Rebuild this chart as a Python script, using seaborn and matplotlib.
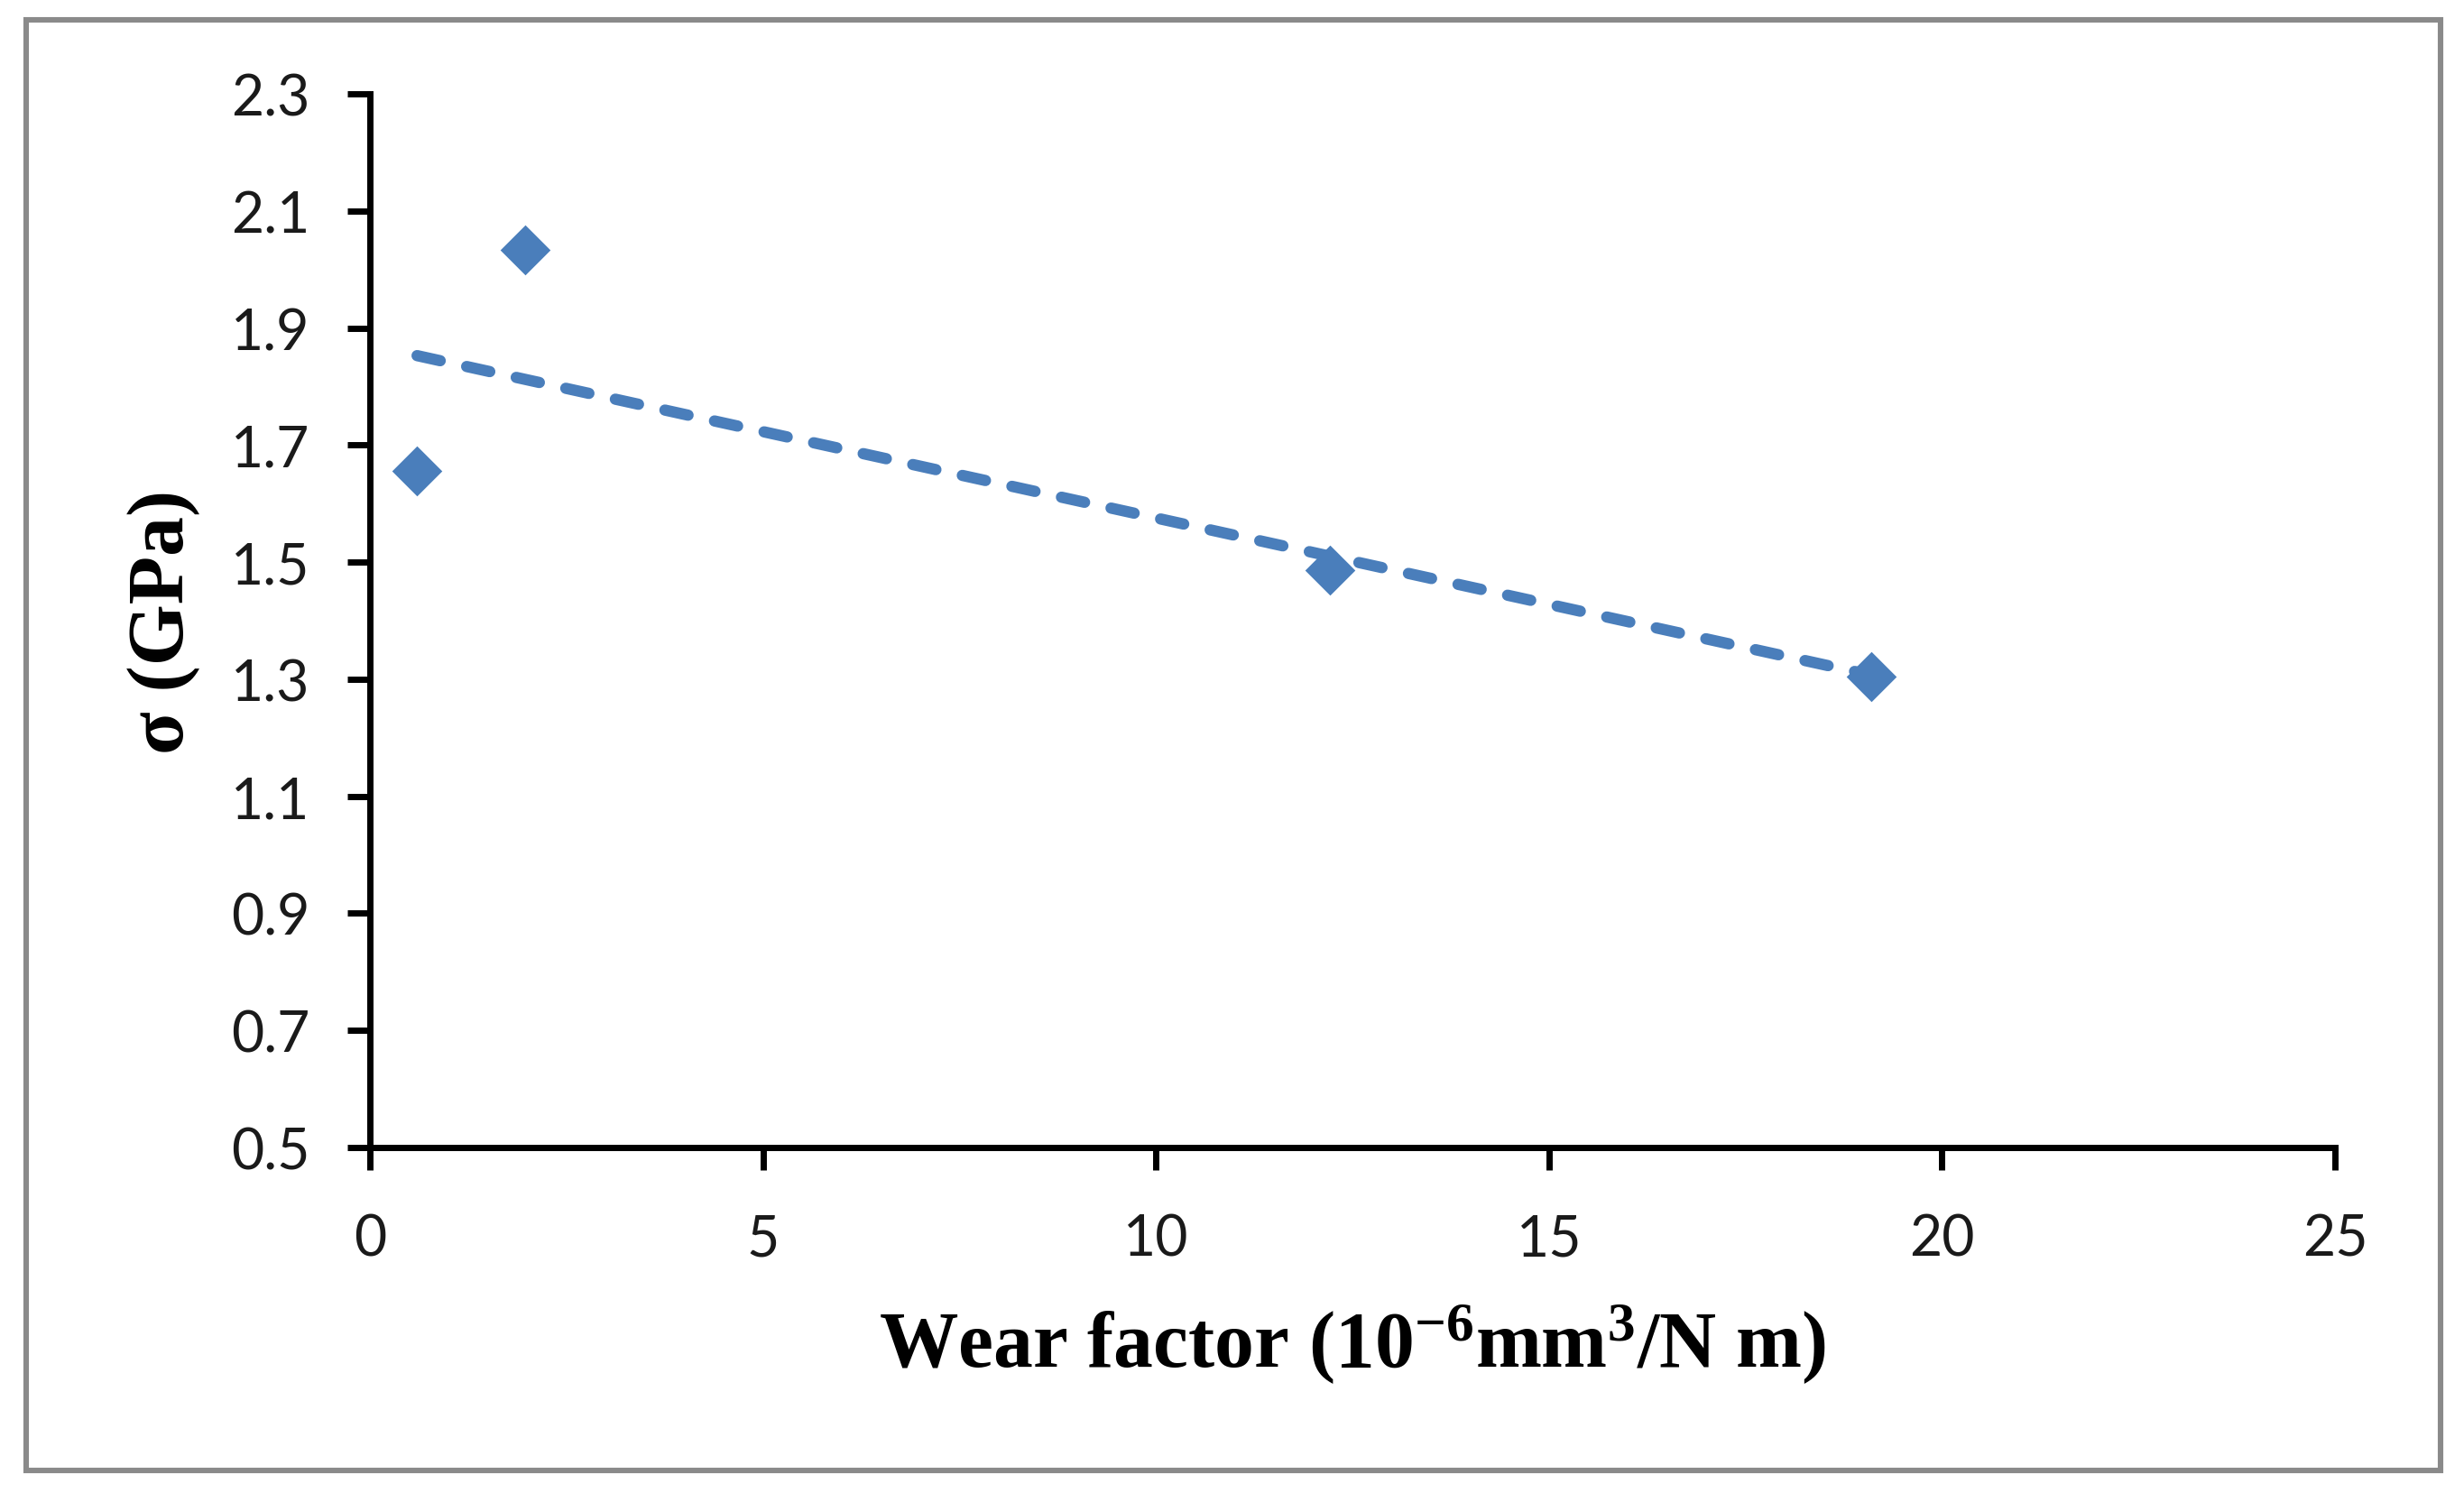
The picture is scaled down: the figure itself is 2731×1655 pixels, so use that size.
import numpy as np
import pandas as pd
import matplotlib
matplotlib.use("Agg")
import matplotlib.pyplot as plt
from matplotlib.patches import Rectangle
import seaborn as sns

# ---- data ----
wear_factor = [0.6, 1.98, 12.21, 19.1]
sigma_gpa = [1.656, 2.034, 1.487, 1.305]
x_ticks = [0, 5, 10, 15, 20, 25]
y_ticks = [0.5, 0.7, 0.9, 1.1, 1.3, 1.5, 1.7, 1.9, 2.1, 2.3]
x_label = "Wear factor (10$^{-6}$mm$^{3}$/N m)"
y_label = "σ (GPa)"

df = pd.DataFrame({"wear": wear_factor, "sigma": sigma_gpa})

sns.set_theme(style="white")
plt.rcParams["font.family"] = ["Lato", "DejaVu Sans"]
plt.rcParams["mathtext.fontset"] = "custom"
plt.rcParams["mathtext.rm"] = "Liberation Serif:bold"
plt.rcParams["mathtext.bf"] = "Liberation Serif:bold"
plt.rcParams["mathtext.it"] = "Liberation Serif:bold:italic"
plt.rcParams["mathtext.default"] = "rm"

DPI = 200
W, H = 2731, 1656
fig = plt.figure(figsize=(W / DPI, H / DPI), dpi=DPI)
fig.patch.set_facecolor("white")

ax_l, ax_r, ax_t, ax_b = 410, 2588, 105, 1273
ax = fig.add_axes([ax_l / W, 1 - ax_b / H, (ax_r - ax_l) / W, (ax_b - ax_t) / H])

blue = "#4A7EBB"

sns.scatterplot(data=df, x="wear", y="sigma", marker="D", s=200, color=blue,
                edgecolor=blue, linewidth=0, ax=ax, zorder=3, legend=False)
sns.regplot(data=df, x="wear", y="sigma", scatter=False, ci=None, truncate=True,
            ax=ax, color=blue,
            line_kws=dict(lw=4.5, dashes=(2.1, 2.4), dash_capstyle="round",
                          solid_capstyle="round", zorder=4))

ax.set_xlim(0, 25)
ax.set_ylim(0.5, 2.3)
ax.set_xticks(x_ticks)
ax.set_yticks(y_ticks)
ax.set_xticklabels([str(v) for v in x_ticks])
ax.set_yticklabels([f"{v:.1f}" for v in y_ticks])

for side in ["top", "right"]:
    ax.spines[side].set_visible(False)
for side in ["left", "bottom"]:
    ax.spines[side].set_linewidth(2.5)
    ax.spines[side].set_color("black")
    ax.spines[side].set_capstyle("projecting")

ax.tick_params(axis="both", which="major", direction="out", length=9, width=2.5,
               color="black", labelsize=22.5, labelcolor="#1a1a1a",
               bottom=True, left=True, top=False, right=False)
ax.tick_params(axis="y", pad=15)
ax.tick_params(axis="x", pad=17)
ax.grid(False)

ax.set_xlabel(x_label, fontsize=31.5, fontweight="bold", family="Liberation Serif",
              color="black")
ax.set_ylabel(y_label, fontsize=31.5, fontweight="bold", family="Liberation Serif",
              color="black")
ax.xaxis.set_label_coords(0.5, -0.185)
ax.yaxis.set_label_coords(-0.105, 0.5)
ax.xaxis.label.set_va("center")
ax.yaxis.label.set_va("center")

# outer chart-area frame
fx0, fy0, fx1, fy1 = 29, 23, 2705, 1631
fig.patches.append(Rectangle((fx0 / W, 1 - fy1 / H), (fx1 - fx0) / W, (fy1 - fy0) / H,
                             transform=fig.transFigure, fill=False,
                             edgecolor="#8a8a8a", linewidth=2.2, zorder=10))

fig.savefig("out.png", dpi=DPI, facecolor="white")
